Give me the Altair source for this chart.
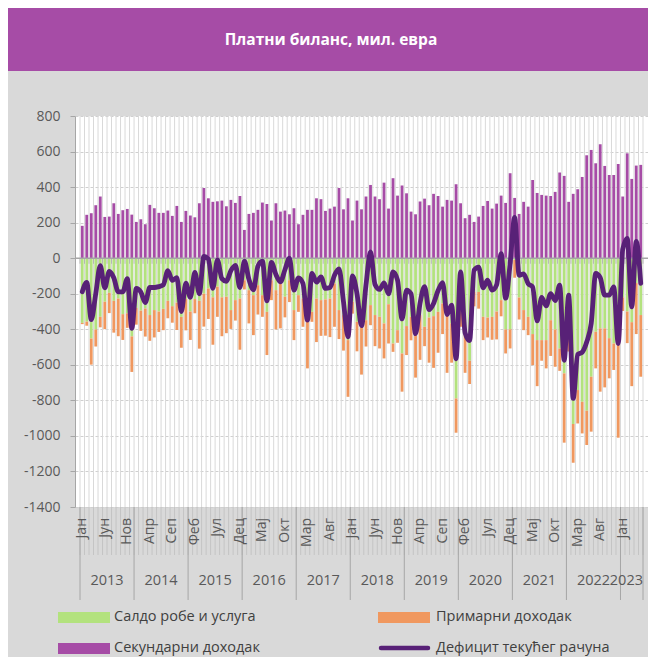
import altair as alt
import pandas as pd

# ---------------- data (million EUR, monthly Jan 2013 - May 2023) ----------------
month_names = ["Јан", "Феб", "Мар", "Апр", "Мај", "Јун", "Јул", "Авг", "Сеп", "Окт", "Нов", "Дец"]
first_year = 2013

secondary = [
    182, 244, 253, 298, 347, 232, 234, 309, 249, 270, 277, 245,
    204, 219, 191, 300, 281, 255, 255, 268, 238, 294, 204, 266,
    240, 230, 309, 395, 337, 317, 320, 324, 292, 328, 311, 350,
    159, 249, 255, 272, 313, 305, 212, 309, 262, 268, 247, 281,
    191, 244, 272, 272, 337, 332, 266, 279, 290, 395, 275, 337,
    212, 324, 275, 347, 412, 347, 332, 425, 279, 450, 352, 409,
    365, 262, 247, 319, 335, 298, 362, 350, 290, 328, 324, 416,
    309, 225, 244, 204, 234, 294, 322, 279, 307, 352, 311, 478,
    339, 249, 317, 290, 440, 367, 356, 352, 350, 373, 482, 463,
    317, 362, 388, 457, 579, 609, 534, 641, 519, 468, 468, 530,
    347, 590, 446, 521, 525,
]
goods = [
    -364, -357, -452, -401, -330, -245, -195, -240, -227, -315, -310, -440,
    -280, -295, -283, -320, -292, -300, -285, -240, -270, -250, -330, -230,
    -300, -230, -240, -200, -170, -220, -160, -220, -217, -292, -236, -227,
    -124, -180, -208, -152, -208, -302, -124, -180, -142, -217, -124, -292,
    -208, -227, -358, -302, -227, -236, -232, -227, -142, -292, -320, -461,
    -245, -358, -339, -349, -264, -320, -330, -367, -259, -480, -405, -536,
    -382, -330, -414, -320, -386, -334, -326, -302, -255, -302, -367, -789,
    -250, -386, -577, -190, -190, -330, -334, -330, -300, -236, -401, -400,
    -10, -221, -292, -330, -427, -461, -461, -461, -349, -401, -508, -648,
    -400, -933, -742, -808, -858, -667, -414, -395, -395, -450, -480, -480,
    -220, -300, -360, -140, -320,
]
primary = [
    -7, -23, -147, -96, -59, -154, -114, -179, -212, -145, -82, -200,
    -94, -114, -158, -145, -154, -115, -120, -98, -93, -154, -174, -176,
    -160, -80, -269, -185, -172, -267, -170, -219, -205, -106, -115, -288,
    -52, -187, -225, -165, -122, -243, -112, -221, -253, -116, -123, -169,
    -94, -159, -262, -56, -245, -201, -204, -217, -244, -163, -200, -319,
    -67, -166, -316, -148, -113, -175, -178, -197, -221, -47, -71, -215,
    -163, -132, -258, -252, -109, -254, -291, -230, -172, -343, -221, -193,
    -136, -259, -131, -81, -94, -131, -112, -129, -157, -91, -135, -108,
    -100, -124, -113, -103, -175, -259, -116, -159, -201, -210, -126, -390,
    -125, -218, -188, -178, -193, -309, -206, -356, -332, -226, -149, -530,
    -77, -178, -360, -287, -347,
]
current_account = [
    -189, -136, -346, -199, -42, -167, -75, -110, -190, -190, -115, -395,
    -170, -190, -250, -165, -165, -160, -150, -70, -125, -110, -300, -140,
    -220, -80, -200, 10, -5, -170, -10, -115, -130, -70, -40, -165,
    -17, -118, -178, -45, -17, -240, -24, -92, -133, -65, 0, -180,
    -111, -142, -348, -86, -135, -105, -170, -165, -96, -60, -245, -443,
    -100, -200, -380, -150, 35, -148, -176, -139, -201, -77, -124, -342,
    -180, -200, -425, -253, -160, -290, -255, -182, -137, -317, -264, -566,
    -77, -420, -464, -67, -50, -167, -124, -180, -150, 25, -225, -30,
    229, -96, -88, -143, -162, -353, -221, -268, -200, -238, -152, -575,
    -208, -789, -542, -529, -472, -367, -86, -110, -208, -208, -161, -480,
    50, 112, -274, 94, -142,
]

series_names = ["Салдо робе и услуга", "Примарни доходак", "Секундарни доходак", "Дефицит текућег рачуна"]
title_text = "Платни биланс, мил. евра"

# ---------------- styling ----------------
GREEN, ORANGE, PURPLE, LINE = "#B3E27E", "#F0985F", "#A64CA6", "#582177"
BG = "#D9D9D9"
TXT = "#595959"
FONT = "Open Sans"
W, H = 573, 391
YEAR_FS = 14.5

n = len(secondary)
months = pd.DataFrame({
    "i": list(range(n)),
    "S": secondary, "G": goods, "P": primary, "L": current_account,
})
months["year"] = first_year + months["i"] // 12
months["mname"] = [month_names[k % 12] for k in months["i"]]

rows = []
for r in months.itertuples():
    rows.append({"i": r.i, "series": series_names[0], "lo": 0, "hi": r.G})
    rows.append({"i": r.i, "series": series_names[1], "lo": r.G, "hi": r.G + r.P})
    rows.append({"i": r.i, "series": series_names[2], "lo": 0, "hi": r.S})
bars_df = pd.DataFrame(rows)

bounds_df = pd.DataFrame({"b": list(range(n + 1)), "z": 0})
year_bounds_df = pd.DataFrame({"b": [k for k in range(n + 1) if k % 12 == 0 or k == n]})
labels_df = months[months["i"] % 5 == 0]
last_year = months["year"].max()
full_years = months[months["year"] < last_year]
part_year = pd.DataFrame({"year": [str(last_year)], "b": [n]})

x_scale = alt.Scale(domain=[0, n], nice=False, zero=False)
y_scale = alt.Scale(domain=[-1400, 800], nice=False, zero=False)
y_axis = alt.Axis(
    values=list(range(-1400, 801, 200)), format="d",
    labelExpr="replace(datum.label, '\u2212', '-')",
    grid=True, gridColor="#CFCFCF", gridDash=[3, 2], gridWidth=1,
    domainColor="#A6A6A6", tickColor="#A6A6A6", tickSize=5,
    labelFont=FONT, labelFontSize=14, labelColor=TXT, labelPadding=10, title=None,
)

vgrid = alt.Chart(bounds_df).mark_rule(color="#D9D9D9", strokeWidth=1).encode(
    x=alt.X("b:Q", scale=x_scale, axis=None), y=alt.value(0), y2=alt.value(H))
mticks = alt.Chart(bounds_df).mark_rule(color="#C4C4C4", strokeWidth=1).encode(
    x=alt.X("b:Q", scale=x_scale, axis=None), y=alt.value(H), y2=alt.value(H + 48))
yticks = alt.Chart(year_bounds_df).mark_rule(color="#A6A6A6", strokeWidth=1).encode(
    x=alt.X("b:Q", scale=x_scale, axis=None), y=alt.value(H), y2=alt.value(H + 93))

bars = alt.Chart(bars_df).transform_calculate(pos="datum.i + 0.5").mark_bar(width=2.8).encode(
    x=alt.X("pos:Q", scale=x_scale, axis=None),
    y=alt.Y("lo:Q", scale=y_scale, axis=y_axis),
    y2="hi:Q",
    color=alt.Color("series:N", scale=alt.Scale(domain=series_names[:3], range=[GREEN, ORANGE, PURPLE]), legend=None),
)

zero_line = alt.Chart(pd.DataFrame({"z": [0]})).mark_rule(color="#A6A6A6", strokeWidth=1.5).encode(
    y=alt.Y("z:Q", scale=y_scale, axis=y_axis), x=alt.value(0), x2=alt.value(W))
zero_ticks = alt.Chart(bounds_df).mark_tick(orient="vertical", size=5, thickness=1, yOffset=3, color="#A6A6A6").encode(
    x=alt.X("b:Q", scale=x_scale, axis=None), y=alt.Y("z:Q", scale=y_scale, axis=y_axis))

line = alt.Chart(months).transform_calculate(pos="datum.i + 0.5").mark_line(
    color=LINE, strokeWidth=4.8, interpolate="monotone", strokeCap="round", strokeJoin="round").encode(
    x=alt.X("pos:Q", scale=x_scale, axis=None),
    y=alt.Y("L:Q", scale=y_scale, axis=y_axis))

mlabels = alt.Chart(labels_df).transform_calculate(pos="datum.i + 0.5").mark_text(
    angle=270, align="right", baseline="middle", font=FONT, fontSize=14, color=TXT).encode(
    x=alt.X("pos:Q", scale=x_scale, axis=None), y=alt.value(H + 11), text="mname:N")

ylabels = alt.Chart(full_years).transform_calculate(pos="datum.i + 0.5").mark_text(
    align="center", baseline="middle", font=FONT, fontSize=YEAR_FS, color=TXT).encode(
    x=alt.X("mean(pos):Q", scale=x_scale, axis=None), y=alt.value(H + 74), text="year:N")
ylabel_last = alt.Chart(part_year).mark_text(
    align="right", baseline="middle", font=FONT, fontSize=YEAR_FS, color=TXT).encode(
    x=alt.X("b:Q", scale=x_scale, axis=None), y=alt.value(H + 74), text="year:N")

one = pd.DataFrame({"k": [0]})
banner = alt.Chart(one).mark_rect(color=PURPLE).encode(
    x=alt.value(-67), x2=alt.value(W), y=alt.value(-108), y2=alt.value(-45))
title = alt.Chart(pd.DataFrame({"t": [title_text]})).mark_text(
    align="center", baseline="middle", font=FONT, fontSize=15.5, fontWeight="bold", color="white").encode(
    x=alt.value(256), y=alt.value(-76), text="t:N")

sw_specs = [(-17, 35, 496, 507, GREEN), (303, 355, 496, 507, ORANGE), (-17, 35, 527, 538, PURPLE)]
legend_layers = []
for (xa, xb, ya, yb, col) in sw_specs:
    legend_layers.append(alt.Chart(one).mark_rect(color=col).encode(
        x=alt.value(xa), x2=alt.value(xb), y=alt.value(ya), y2=alt.value(yb)))
legend_layers.append(alt.Chart(one).mark_rule(color=LINE, strokeWidth=4.5, strokeCap="round").encode(
    x=alt.value(306), x2=alt.value(353), y=alt.value(532)))
for (tx, ty, name) in [(39, 501, series_names[0]), (361, 501, series_names[1]),
                       (39, 532, series_names[2]), (361, 532, series_names[3])]:
    legend_layers.append(alt.Chart(pd.DataFrame({"t": [name]})).mark_text(
        align="left", baseline="middle", font=FONT, fontSize=14.5, color="#404040").encode(
        x=alt.value(tx), y=alt.value(ty), text="t:N"))

chart = alt.layer(
    vgrid, mticks, yticks, bars, zero_line, zero_ticks, line, mlabels, ylabels, ylabel_last,
    banner, title, *legend_layers
).properties(
    width=W, height=H,
    padding={"left": 67, "top": 108, "right": 0, "bottom": 150},
    autosize=alt.AutoSizeParams(type="none"),
    background=BG,
).configure_view(strokeWidth=0, fill="white")

chart.save("out.html", embed_options={"renderer": "svg", "actions": False})
